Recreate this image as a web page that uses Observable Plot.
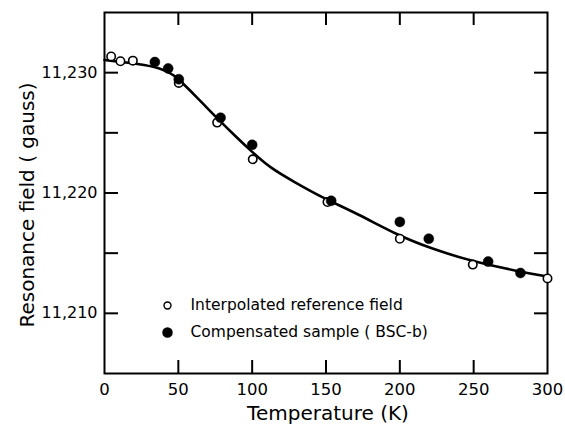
<!DOCTYPE html>
<html>
<head>
<meta charset="utf-8">
<script src="https://cdn.jsdelivr.net/npm/d3@7"></script>
<script src="https://cdn.jsdelivr.net/npm/@observablehq/plot@0.6"></script>
<style>
  html, body { margin: 0; padding: 0; background: #fff; }
  #chart { width: 565px; height: 424px; }
</style>
</head>
<body>
<div id="chart"></div>
<script>
// Interpolated reference field (open circles)
const refTemp  = [4.5, 10.8, 19.2, 50.3, 76.3, 100.4, 151, 200, 249.4, 300];
const refField = [11231.35, 11230.95, 11231.0, 11229.15, 11225.85, 11222.8, 11219.25, 11216.2, 11214.05, 11212.9];

// Compensated sample (BSC-b) (filled circles)
const sampTemp  = [34.1, 43.1, 50.3, 78.6, 100, 153.5, 200, 219.6, 259.8, 281.7];
const sampField = [11230.88, 11230.35, 11229.45, 11226.25, 11224.0, 11219.35, 11217.6, 11216.2, 11214.3, 11213.35];

// Fitted smooth curve
const curveTemp  = [0, 24, 38, 47, 54, 63, 70, 78.5, 88, 100, 112, 128, 148.5, 171, 200, 221, 249, 282, 300];
const curveField = [11231.05, 11230.72, 11230.38, 11229.83, 11229.0, 11227.9, 11227.0, 11225.95, 11224.8, 11223.4, 11222.1, 11220.95, 11219.55, 11218.3, 11216.4, 11215.4, 11214.3, 11213.45, 11213.05];

// Axis ticks
const xTicks = [0, 50, 100, 150, 200, 250, 300];
const xInnerTicks = [50, 100, 150, 200, 250];
const yLabelTicks = [11210, 11220, 11230];
const yInnerTicks = [11210, 11215, 11220, 11225, 11230];

const xTitle = "Temperature (K)";
const yTitle = "Resonance field ( gauss)";
const legendLabels = ["Interpolated reference field", "Compensated sample ( BSC-b)"];

const ref = refTemp.map((t, i) => ({t, f: refField[i]}));
const samp = sampTemp.map((t, i) => ({t, f: sampField[i]}));
const curve = curveTemp.map((t, i) => ({t, f: curveField[i]}));

const font = "DejaVu Sans, sans-serif";

const plot = Plot.plot({
  width: 565,
  height: 424,
  marginLeft: 104,
  marginRight: 18,
  marginTop: 12,
  marginBottom: 51,
  style: { fontFamily: font, background: "#fff", color: "#000", overflow: "visible" },
  x: { domain: [0, 300] },
  y: { domain: [11205, 11235] },
  marks: [
    // inward tick marks on all four sides
    Plot.gridX(xInnerTicks, { stroke: "#000", strokeOpacity: 1, strokeWidth: 2, insetTop: 348 }),
    Plot.gridX(xInnerTicks, { stroke: "#000", strokeOpacity: 1, strokeWidth: 2, insetBottom: 348 }),
    Plot.gridY(yInnerTicks, { stroke: "#000", strokeOpacity: 1, strokeWidth: 2, insetRight: 429 }),
    Plot.gridY(yInnerTicks, { stroke: "#000", strokeOpacity: 1, strokeWidth: 2, insetLeft: 430 }),
    Plot.axisX(xTicks, { anchor: "bottom", tickSize: 0, tickPadding: 10, fontSize: 16.5, label: null }),
    Plot.axisY(yLabelTicks, { anchor: "left", tickSize: 0, tickPadding: 7, fontSize: 16, label: null, tickFormat: d3.format(",") }),
    Plot.text([xTitle], { text: d => d, frameAnchor: "bottom", dx: 2, dy: 46, lineAnchor: "bottom", fontSize: 20 }),
    Plot.text([yTitle], { text: d => d, frameAnchor: "left", textAnchor: "middle", dx: -77, dy: 12, rotate: -90, lineAnchor: "middle", fontSize: 20, letterSpacing: "0.8px" }),
    Plot.frame({ stroke: "#000", strokeWidth: 2 }),
    // fitted curve
    Plot.line(curve, { x: "t", y: "f", curve: "basis", stroke: "#000", strokeWidth: 2.6 }),
    // data
    Plot.dot(ref, { x: "t", y: "f", r: 4.2, fill: "#fff", stroke: "#000", strokeWidth: 1.6 }),
    Plot.dot(samp, { x: "t", y: "f", r: 5, fill: "#000", stroke: "#000", strokeWidth: 0.5 }),
    // legend
    Plot.dot([legendLabels[0]], { frameAnchor: "bottom-left", dx: 63, dy: -68, r: 3.5, fill: "#fff", stroke: "#000", strokeWidth: 1.4 }),
    Plot.dot([legendLabels[1]], { frameAnchor: "bottom-left", dx: 63, dy: -41, r: 4.5, fill: "#000", stroke: "#000" }),
    Plot.text([legendLabels[0]], { text: d => d, frameAnchor: "bottom-left", dx: 86, dy: -68, textAnchor: "start", lineAnchor: "middle", fontSize: 15.5 }),
    Plot.text([legendLabels[1]], { text: d => d, frameAnchor: "bottom-left", dx: 86, dy: -41, textAnchor: "start", lineAnchor: "middle", fontSize: 15.5 })
  ]
});

document.getElementById("chart").appendChild(plot);
</script>
</body>
</html>
